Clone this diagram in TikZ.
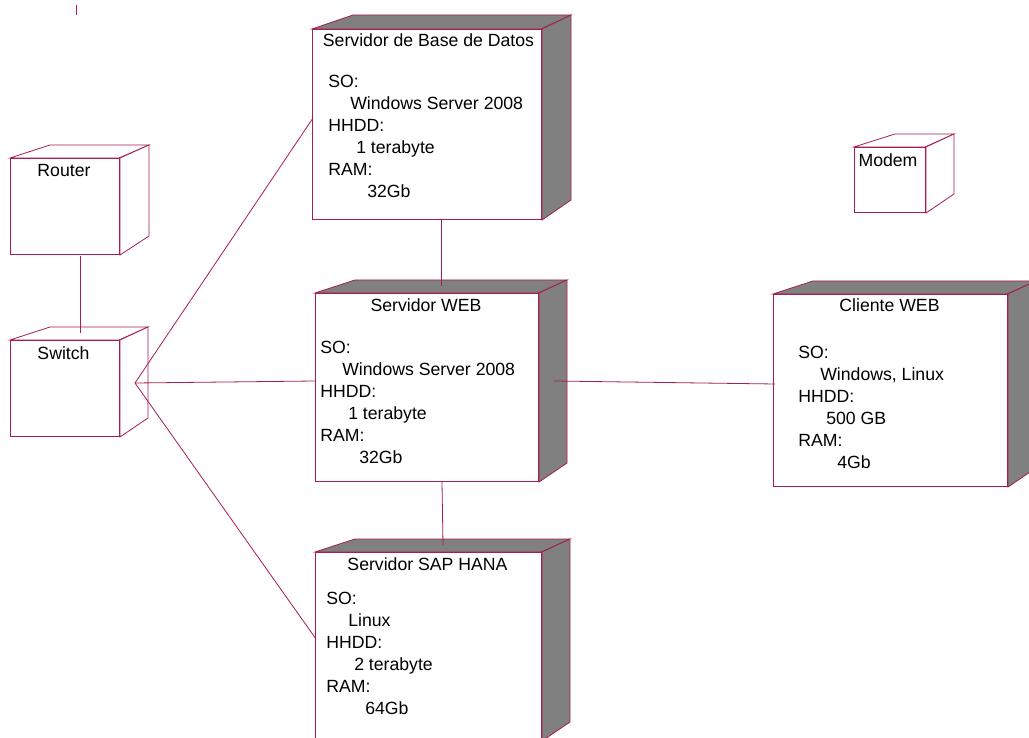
\documentclass[tikz,border=0pt]{standalone}
\usepackage{fontspec}
\setmainfont{Liberation Sans}
\definecolor{edge}{RGB}{165,30,80}
\definecolor{side}{RGB}{128,128,128}
\tikzset{
  x=0.75pt,y=-0.75pt,
  wire/.style={draw=edge,line width=0.6pt},
  txt/.style={font=\fontsize{13.25}{16.5}\selectfont,text=black,inner sep=0pt,align=left},
  hdr/.style={txt,anchor=center},
  body/.style={txt,anchor=north west},
}
\newcommand{\lineA}{\hspace*{16.5pt}}
\newcommand{\lineB}{\hspace*{21pt}}
\newcommand{\lineC}{\hspace*{29.25pt}}
% #1 x0, #2 y0, #3 x1, #4 y1, #5 depth x, #6 depth y, #7 side colour, #8 back-left x
\newcommand{\nodecube}[8]{%
  \path[fill=#7,draw=edge,line width=0.6pt] (#1,#2) -- (#8,#2-#6) -- (#3+#5,#2-#6) -- (#3,#2) -- cycle;
  \path[fill=#7,draw=edge,line width=0.6pt] (#3+1,#2) -- (#3+#5,#2-#6) -- (#3+#5,#4-#6-5) -- (#3+1,#4+1) -- cycle;
  \path[fill=white,draw=edge,line width=0.6pt] (#1,#2) rectangle (#3,#4);
}
\begin{document}
\begin{tikzpicture}
\useasboundingbox (0,0) rectangle (1029,738);
\clip (0,0) rectangle (1029,738);
\fill[white] (0,0) rectangle (1029,738);
\draw[wire] (76,5) -- (76,15);
\nodecube{312}{29}{541}{219}{30}{14}{side}{353}
\nodecube{10}{158}{119}{254}{30}{13}{white}{50}
\nodecube{10}{340}{119}{436}{29}{13}{white}{50}
\nodecube{854}{147}{925}{212}{29}{13}{white}{895}
\nodecube{773}{294}{1007}{486}{29}{13}{side}{813}
\nodecube{315}{293}{538}{481}{29}{13}{side}{355}
\nodecube{315}{552}{541}{740}{29}{13}{side}{355}
\coordinate (hub) at (135,383);
\coordinate (dbS) at (441.5,220);
\coordinate (webN) at (441.5,286);
\coordinate (webS) at (442,482);
\coordinate (hanaN) at (443,545);
\coordinate (dbW) at (313,118);
\coordinate (webW) at (315,381);
\coordinate (hanaW) at (316,639);
\coordinate (webE) at (554,381);
\coordinate (cliW) at (775,384);
\coordinate (rtS) at (80,256);
\coordinate (swN) at (80,333);
\draw[wire] (rtS) -- (swN);
\draw[wire] (hub) -- (dbW);
\draw[wire] (hub) -- (webW);
\draw[wire] (hub) -- (hanaW);
\draw[wire] (dbS) -- (webN);
\draw[wire] (webS) -- (hanaN);
\draw[wire] (webE) -- (cliW);
\node[hdr] (t1) at (64,171) {Router};
\node[hdr] (t2) at (63.5,353) {Switch};
\node[hdr] (t3) at (888,160) {Modem};
\node[hdr] (t4) at (428.5,40) {Servidor de Base de Datos};
\node[hdr] (t5) at (426,305) {Servidor WEB};
\node[hdr] (t6) at (427.5,564) {Servidor SAP HANA};
\node[hdr] (t7) at (889.5,305) {Cliente WEB};
\node[body] (b4) at (328,74.5) {SO:\\\lineA Windows Server 2008\\HHDD:\\\lineB 1 terabyte\\RAM:\\\lineC 32Gb};
\node[body] (b5) at (320,340.5) {SO:\\\lineA Windows Server 2008\\HHDD:\\\lineB 1 terabyte\\RAM:\\\lineC 32Gb};
\node[body] (b6) at (326,591.5) {SO:\\\lineA Linux\\HHDD:\\\lineB 2 terabyte\\RAM:\\\lineC 64Gb};
\node[body] (b7) at (798,345.5) {SO:\\\lineA Windows, Linux\\HHDD:\\\lineB 500 GB\\RAM:\\\lineC 4Gb};
\end{tikzpicture}
\end{document}
